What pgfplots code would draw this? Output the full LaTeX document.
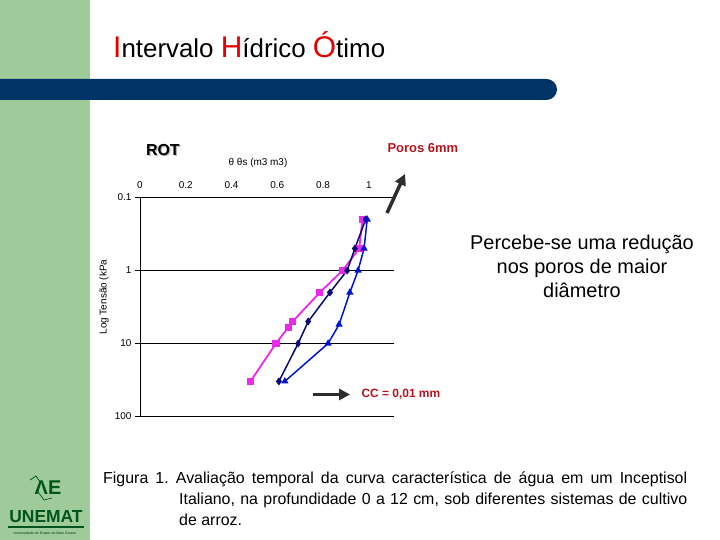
\documentclass[border=0pt]{standalone}
\usepackage{pgfplots}
\pgfplotsset{compat=1.18}
\usepackage{fontspec}
\setmainfont{Liberation Sans}
\usetikzlibrary{arrows.meta}
\frenchspacing

\definecolor{barGreen}{RGB}{158,203,153}
\definecolor{barNavy}{RGB}{0,51,102}
\definecolor{titleRed}{RGB}{228,0,0}
\definecolor{noteRed}{RGB}{185,18,30}
\definecolor{serMag}{RGB}{235,40,235}
\definecolor{serNavy}{RGB}{10,10,110}
\definecolor{serBlue}{RGB}{0,20,215}
\definecolor{arrowGray}{RGB}{45,45,45}
\definecolor{logoGreen}{RGB}{0,85,30}

% theta (m3/m3) vs tension (kPa)
\pgfplotstableread{
x y
0.972 0.2
0.958 0.5
0.885 1
0.786 2
0.667 5
0.648 6
0.594 10
0.483 33
}\tabMag
\pgfplotstableread{
x y
0.986 0.2
0.939 0.5
0.905 1
0.830 2
0.735 5
0.691 10
0.607 33
}\tabNavy
\pgfplotstableread{
x y
0.993 0.2
0.979 0.5
0.953 1
0.917 2
0.870 5.5
0.822 10
0.633 33
}\tabBlue

\begin{document}
\begin{tikzpicture}[x=1bp,y=1bp]
\useasboundingbox (0,0) rectangle (720,540);
\fill[white] (0,0) rectangle (720,540);
\fill[barGreen] (0,0) rectangle (90,540);
\fill[barNavy] (0,440) -- (546.5,440) arc[start angle=-90,end angle=90,radius=10.5] -- (0,461) -- cycle;

% title
\node[anchor=base west, inner sep=0] at (113,482) {%
  {\fontsize{30}{30}\selectfont\color{titleRed}I}{\fontsize{26}{26}\selectfont ntervalo }%
  {\fontsize{30}{30}\selectfont\color{titleRed}H}{\fontsize{26}{26}\selectfont ídrico }%
  {\fontsize{30}{30}\selectfont\color{titleRed}Ó}{\fontsize{26}{26}\selectfont timo}};

\begin{axis}[
  at={(140bp,123.5bp)}, anchor=south west,
  scale only axis, width=254bp, height=219bp,
  xmin=0, xmax=1.11, ymin=0.1, ymax=100,
  ymode=log, y dir=reverse,
  axis x line*=top, axis y line*=left,
  x axis line style={draw=none},
  y axis line style={-, line width=0.8bp},
  xtick={0,0.2,0.4,0.6,0.8,1},
  xticklabels={0,0.2,0.4,0.6,0.8,1},
  xtick style={draw=none},
  ytick={0.1,1,10,100},
  yticklabels={0.1,1,10,100},
  yminorticks=false,
  ytick style={black, line width=0.8bp},
  tick align=outside, major tick length=5bp,
  ymajorgrids, grid style={black, line width=0.8bp},
  ticklabel style={font=\fontsize{10}{12}\selectfont},
  clip=false,
]
\addplot[color=serMag, line width=1.8bp, mark=square*, mark size=2.7bp] table[x=x,y=y] {\tabMag};
\addplot[color=serNavy, line width=1.5bp, mark=diamond*, mark size=2.8bp] table[x=x,y=y] {\tabNavy};
\addplot[color=serBlue, line width=1.5bp, mark=triangle*, mark size=2.8bp] table[x=x,y=y] {\tabBlue};
\end{axis}

% axis texts
\node[font=\fontsize{10}{12}\selectfont] at (258,377) {θ θs (m3 m3)};
\node[rotate=90, font=\fontsize{10}{12}\selectfont] at (104,243) {Log Tensão (kPa};
\node[font=\fontsize{16}{18}\selectfont\bfseries, text=black!30, anchor=west] at (143.8,388.8) {ROT};
\node[font=\fontsize{16}{18}\selectfont\bfseries, anchor=west] at (142.5,390) {ROT};
\node[font=\fontsize{13}{15}\selectfont\bfseries, text=noteRed, anchor=west] at (384,392) {Poros 6mm};
\draw[arrowGray, line width=3.5bp, -{Triangle[length=11bp,width=11bp]}] (387,327) -- (405,366);
\draw[arrowGray, line width=3.5bp, -{Triangle[length=11bp,width=11bp]}] (313,145.5) -- (350,145.5);
\node[font=\fontsize{12}{14}\selectfont\bfseries, text=noteRed, anchor=west] at (358,145.5) {CC = 0,01 mm};

% note on the right
\node[align=center, font=\fontsize{20}{24}\selectfont] at (582,274) {Percebe-se uma redução\\nos poros de maior\\diâmetro};

% caption
\node[anchor=base west, inner sep=0, font=\fontsize{16}{18}\selectfont] at (103,56) {\makebox[584bp][s]{Figura 1. Avaliação temporal da curva característica de água em um Inceptisol}};
\node[anchor=base west, inner sep=0, font=\fontsize{16}{18}\selectfont] at (179,35) {\makebox[508bp][s]{Italiano, na profundidade 0 a 12 cm, sob diferentes sistemas de cultivo}};
\node[anchor=base west, inner sep=0, font=\fontsize{16}{18}\selectfont] at (179,14) {de arroz.};

% logo
\node[font=\fontsize{20}{20}\selectfont\bfseries, text=logoGreen] at (48,52) {ΛE};
\draw[logoGreen, line width=0.7bp] (30,60) -- (36,64) -- (40,58) -- (38,48) -- (44,40) -- (52,42);
\node[font=\fontsize{17.5}{17.5}\selectfont\bfseries, text=logoGreen] at (46,23) {UNEMAT};
\draw[logoGreen, line width=1.4bp] (8,13) -- (84,13);
\node[font=\fontsize{3.5}{4}\selectfont, text=logoGreen!70!black] at (45,7) {Universidade do Estado de Mato Grosso};
\end{tikzpicture}
\end{document}
